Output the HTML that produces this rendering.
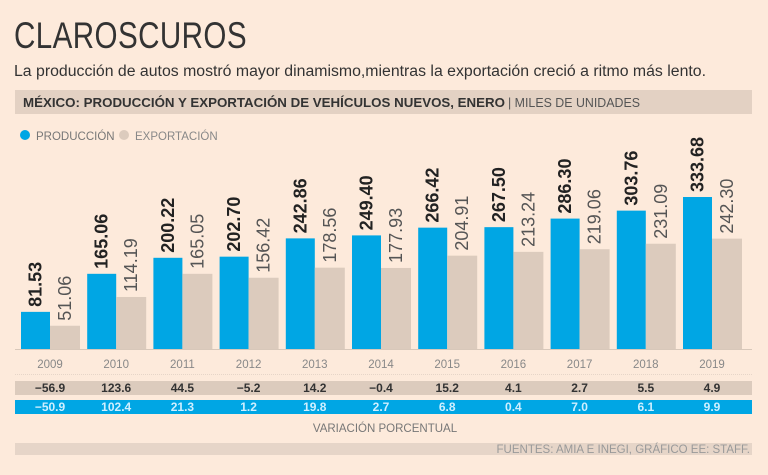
<!DOCTYPE html>
<html><head><meta charset="utf-8"><style>
body{margin:0;background:#fdeadb;}
svg{display:block;font-family:"Liberation Sans",sans-serif;}
</style></head><body>
<svg width="768" height="475" viewBox="0 0 768 475">
<rect width="768" height="475" fill="#fdeadb"/>
<text x="14" y="48" font-size="37" fill="#333" font-weight="300" letter-spacing="0.5" textLength="233" lengthAdjust="spacingAndGlyphs">CLAROSCUROS</text>
<text x="14" y="76" font-size="15.5" fill="#333" textLength="692" lengthAdjust="spacingAndGlyphs">La producción de autos mostró mayor dinamismo,mientras la exportación creció a ritmo más lento.</text>
<rect x="15" y="90" width="737" height="24" fill="#e3d1c3"/>
<text x="23" y="107" font-size="13" font-weight="bold" fill="#333" textLength="482" lengthAdjust="spacingAndGlyphs">MÉXICO: PRODUCCIÓN Y EXPORTACIÓN DE VEHÍCULOS NUEVOS, ENERO</text>
<text x="508" y="107" font-size="13" fill="#555" textLength="132" lengthAdjust="spacingAndGlyphs">| MILES DE UNIDADES</text>
<circle cx="25" cy="135" r="5" fill="#00a6e4"/>
<text x="36" y="140" font-size="11.5" fill="#777">PRODUCCIÓN</text>
<circle cx="124" cy="135" r="5" fill="#dccbbd"/>
<text x="135" y="140" font-size="11.5" fill="#888">EXPORTACIÓN</text>
<g id="bars"></g>
<line x1="15" y1="349.5" x2="752" y2="349.5" stroke="#d8c8ba"/>
<line x1="15" y1="374.5" x2="752" y2="374.5" stroke="#e6d5c8" stroke-dasharray="1,1"/>
<rect x="15" y="381" width="737" height="14" fill="#dccbbd"/>
<rect x="15" y="400" width="737" height="14" fill="#00a6e4"/>
<g id="rows"></g>
<text x="385" y="432" font-size="11.5" fill="#777" text-anchor="middle">VARIACIÓN PORCENTUAL</text>
<rect x="15" y="443" width="737" height="12" fill="#e6d5c8"/>
<text x="750" y="453" font-size="11.5" fill="#999" text-anchor="end" font-weight="300">FUENTES: AMIA E INEGI, GRÁFICO EE: STAFF.</text>
</svg>
<script>
var yrs=[2009,2010,2011,2012,2013,2014,2015,2016,2017,2018,2019];
var p=["81.53","165.06","200.22","202.70","242.86","249.40","266.42","267.50","286.30","303.76","333.68"];
var e=["51.06","114.19","165.05","156.42","178.56","177.93","204.91","213.24","219.06","231.09","242.30"];
var r1=["−56.9","123.6","44.5","−5.2","14.2","−0.4","15.2","4.1","2.7","5.5","4.9"];
var r2=["−50.9","102.4","21.3","1.2","19.8","2.7","6.8","0.4","7.0","6.1","9.9"];
var ns="http://www.w3.org/2000/svg",g=document.getElementById("bars"),h=document.getElementById("rows");
function el(par,t,a,txt){var n=document.createElementNS(ns,t);for(var k in a)n.setAttribute(k,a[k]);if(txt)n.textContent=txt;par.appendChild(n);return n;}
var k=0.4555,B=349;
for(var i=0;i<11;i++){
 var x=21+i*66.2;
 var hp=parseFloat(p[i])*k, he=parseFloat(e[i])*k;
 el(g,"rect",{x:x,y:B-hp,width:29,height:hp,fill:"#00a6e4"});
 el(g,"rect",{x:x+29,y:B-he,width:30,height:he,fill:"#dccbbd"});
 var cx=x+14.5+6, cy=B-hp-5;
 el(g,"text",{x:cx,y:cy,"font-size":"18","font-weight":"bold",fill:"#222",transform:"rotate(-90 "+cx+" "+cy+")"},p[i]);
 var ex=x+44+6, ey=B-he-5;
 el(g,"text",{x:ex,y:ey,"font-size":"18","font-weight":"300",fill:"#555",transform:"rotate(-90 "+ex+" "+ey+")"},e[i]);
 var c=x+29;
 el(h,"text",{x:c,y:368,"font-size":"11.5",fill:"#888","text-anchor":"middle"},yrs[i]);
 el(h,"text",{x:c,y:392,"font-size":"12","font-weight":"bold",fill:"#333","text-anchor":"middle"},r1[i]);
 el(h,"text",{x:c,y:411,"font-size":"12","font-weight":"bold",fill:"#cfefff","text-anchor":"middle"},r2[i]);
}
</script>
</body></html>
